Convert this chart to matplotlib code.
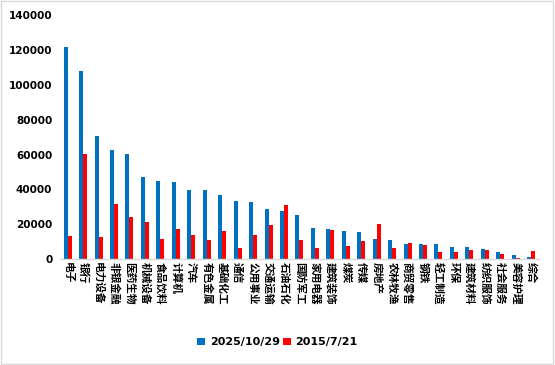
import matplotlib
matplotlib.use('Agg')
import matplotlib.pyplot as plt
import numpy as np
from matplotlib.patches import Rectangle

plt.rcParams['font.family'] = ['Noto Sans CJK SC', 'DejaVu Sans']

industries = ['电子', '银行', '电力设备', '非银金融', '医药生物', '机械设备', '食品饮料', '计算机',
              '汽车', '有色金属', '基础化工', '通信', '公用事业', '交通运输', '石油石化', '国防军工',
              '家用电器', '建筑装饰', '煤炭', '传媒', '房地产', '农林牧渔', '商贸零售', '钢铁',
              '轻工制造', '环保', '建筑材料', '纺织服饰', '社会服务', '美容护理', '综合']
val_2025 = [121600, 108000, 70700, 62500, 60200, 47000, 44700, 44200, 39600, 39600, 36700,
            33300, 32900, 28700, 27600, 25300, 17900, 17300, 16100, 15500, 11500, 10900,
            8600, 8600, 8600, 6900, 6900, 5800, 4000, 2300, 1150]
val_2015 = [13200, 60200, 12600, 31500, 24100, 21200, 11500, 17200, 13800, 10900, 16100,
            6300, 13800, 19500, 31100, 10900, 6300, 16700, 7500, 10400, 20200, 6300,
            9200, 8100, 4000, 4000, 5200, 5200, 2900, 600, 4600]
series_names = ['2025/10/29', '2015/7/21']
yticks = [0, 20000, 40000, 60000, 80000, 100000, 120000, 140000]

blue = '#0070C0'
red = '#FF0000'

fig = plt.figure(figsize=(5.55, 3.65), dpi=100)
ax = fig.add_axes([0.108, 0.290, 0.863, 0.668])

x = np.arange(len(industries))
w = 0.26
ax.bar(x - w / 2, val_2025, width=w, color=blue, label=series_names[0])
ax.bar(x + w / 2, val_2015, width=w, color=red, label=series_names[1])

ax.set_xlim(-0.5, len(industries) - 0.5)
ax.set_ylim(0, 140000)
ax.set_yticks(yticks)
ax.set_yticklabels([str(v) for v in yticks], fontsize=7.5, fontweight='bold',
                   family='DejaVu Sans')
ax.tick_params(axis='y', length=0, pad=5.5)
ax.tick_params(axis='x', length=0, pad=2)
ax.set_xticks(x)
ax.set_xticklabels(industries, rotation=-90, fontsize=7.7, fontweight='bold',
                   ha='center', va='top')

for s in ['left', 'right', 'top']:
    ax.spines[s].set_visible(False)
ax.spines['bottom'].set_color('#d9d9d9')
ax.spines['bottom'].set_linewidth(1)

leg = fig.legend(loc='center', bbox_to_anchor=(0.5, 0.062), ncol=2, frameon=False,
                 prop={'family': 'DejaVu Sans', 'weight': 'bold', 'size': 8},
                 handlelength=0.7, handleheight=0.7, handletextpad=0.4, columnspacing=0.3)

fig.patches.append(Rectangle((0.002, 0.003), 0.995, 0.994, transform=fig.transFigure,
                             fill=False, edgecolor='#d9d9d9', linewidth=1))

fig.savefig('out.png', dpi=100)
